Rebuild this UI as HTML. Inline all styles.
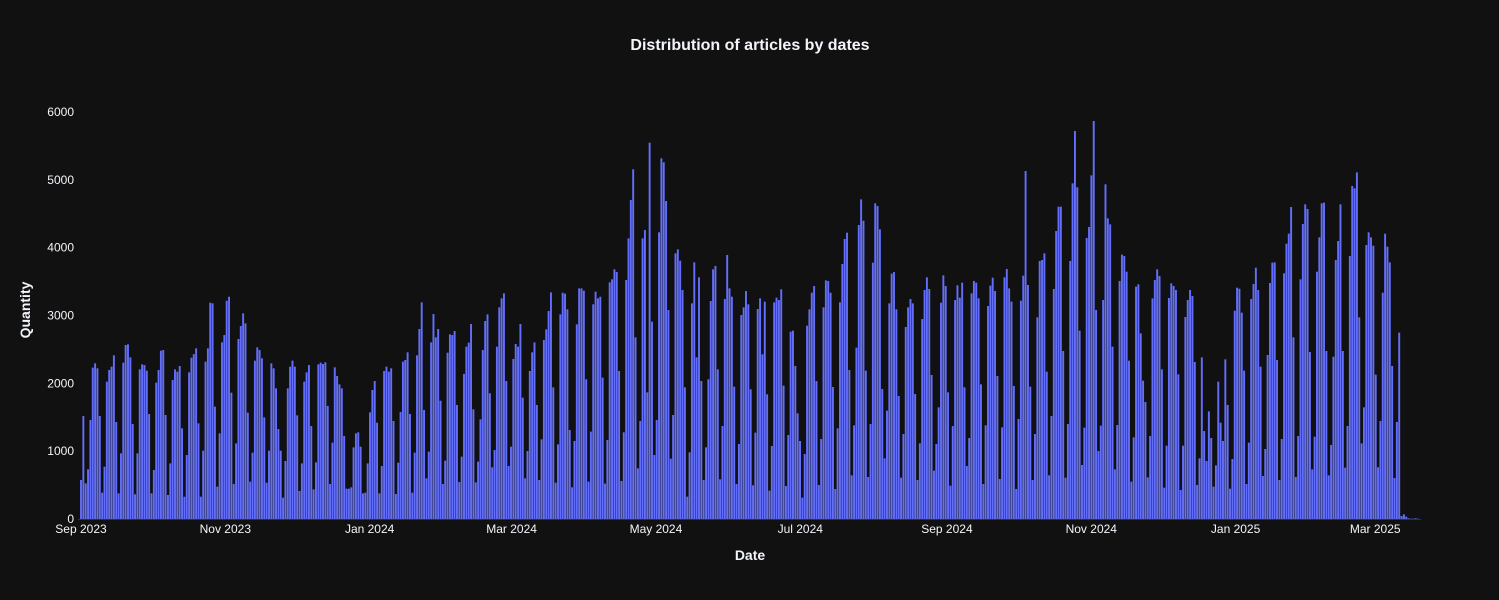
<!DOCTYPE html>
<html><head><meta charset="utf-8">
<style>
html,body{margin:0;padding:0;background:#111111;}
svg{display:block;font-family:"Liberation Sans",sans-serif;}
</style></head>
<body>
<svg id="chart" width="1499" height="600" viewBox="0 0 1499 600" xmlns="http://www.w3.org/2000/svg">
<rect x="0" y="0" width="1499" height="600" fill="#111111"/>
<text x="750" y="50" text-anchor="middle" font-size="16" font-weight="bold" fill="#f2f5fa">Distribution of articles by dates</text>
<text transform="translate(30,310) rotate(-90)" text-anchor="middle" font-size="14" font-weight="bold" fill="#f2f5fa">Quantity</text>
<text x="750" y="560" text-anchor="middle" font-size="14" font-weight="bold" fill="#f2f5fa">Date</text>
<g id="bars"></g>
<g id="yticks"></g>
<g id="xticks"></g>
</svg>
<script>
const startDate = "2023-09-01";
const values = [575,1518,525,732,1460,2231,2295,2221,1518,388,771,2025,2197,2246,2413,1430,378,968,2305,2565,2575,2383,1400,364,968,2206,2280,2270,2187,1548,378,722,2010,2197,2481,2491,1533,354,820,2049,2206,2172,2256,1336,329,943,2162,2378,2430,
2516,1410,329,1007,2320,2516,3189,3179,1656,477,1263,2604,2712,3218,3277,1862,516,1115,2654,2845,3032,2884,1567,550,978,2334,2530,2491,2369,1499,535,1007,2295,2221,1926,1326,1007,314,855,1926,2246,2334,2246,1528,413,820,2025,2162,
2270,1371,437,835,2280,2305,2285,2310,1666,516,1125,2236,2108,1985,1926,1224,447,447,467,1056,1263,1278,1066,378,388,820,1572,1902,2034,1420,378,781,2182,2246,2172,2221,1445,368,830,1577,2320,2344,2457,1548,388,978,2413,2801,3194,
1607,600,993,2604,3022,2678,2801,1744,516,860,2452,2722,2712,2771,1681,545,919,2138,2540,2600,2875,1617,540,845,1469,2491,2919,3017,1853,762,1017,2540,3120,3253,3327,2034,781,1066,2359,2580,2540,2875,1789,600,1002,2182,2457,
2604,1681,575,1174,2639,2796,3066,3341,1941,535,1101,3017,3336,3322,3091,1312,467,1150,2870,3400,3400,3366,2059,550,1288,3165,3351,3253,3277,2084,521,1165,3489,3533,3681,3641,2182,560,1278,3523,4138,4703,5155,2678,747,1445,4138,4260,1867,
5548,2909,943,1460,4226,5317,5258,4688,3081,889,1533,3916,3975,3808,3376,1941,329,983,3179,3784,2383,3563,2034,575,1056,2059,3214,3681,3730,2206,585,1371,3243,3892,3400,3277,1951,516,1106,3007,3120,3361,3165,1912,496,1273,3096,3253,2428,
3204,1838,418,1076,3194,3263,3228,3386,1966,486,1238,2762,2776,2256,1558,1150,314,958,2850,3091,3336,3435,2034,501,1179,3120,3518,3509,3336,1946,442,1336,3194,3759,4128,4221,2197,644,1381,2526,4334,4712,4398,2187,619,1400,3779,4654,4614,4270,
1917,894,1597,3179,3617,3641,3091,1813,609,1253,2831,3120,3243,3179,1843,575,1115,2948,3376,3563,3391,2123,713,1106,1646,3189,3592,3435,1867,491,1371,3228,3445,3263,3484,1941,781,1194,3327,3509,3484,3253,1985,516,1381,3140,3440,3558,3361,
2108,590,1351,3563,3686,3400,3204,1961,442,1474,3218,3587,5130,3450,1951,575,1253,2973,3804,3818,3916,2172,644,1518,3391,4246,4604,4604,2477,609,1400,3804,4948,5720,4890,2776,796,1346,4143,4305,5066,5867,3081,1002,1376,3228,4934,4432,4344,
2541,732,1386,3509,3897,3877,3646,2334,550,1204,3425,3460,2737,2039,1725,614,1224,3253,3523,3681,3583,2206,462,1081,3258,3474,3435,3376,2133,428,1081,2978,3228,3376,3287,2315,501,894,2383,1297,855,1587,1194,477,791,2025,1420,1150,2354,
1681,447,884,3071,3410,3395,3042,2187,516,1125,3243,3465,3705,3376,2246,634,1032,2418,3479,3779,3784,2344,575,1179,3622,4059,4206,4599,2678,619,1224,3533,4349,4639,4570,2462,732,1214,3646,4152,4654,4664,2477,644,1091,2393,3818,4098,4639,
2477,757,1371,3877,4909,4875,5110,2973,1115,1646,4039,4226,4152,4029,2128,762,1445,3336,4206,4015,3784,2256,604,1430,2747,44,69,34,10,5,5,10,5];
const yTicks = [0,1000,2000,3000,4000,5000,6000];
const xTickDates = ["2023-09-01","2023-11-01","2024-01-01","2024-03-01","2024-05-01","2024-07-01","2024-09-01","2024-11-01","2025-01-01","2025-03-01"];
const xTickLabels = ["Sep 2023","Nov 2023","Jan 2024","Mar 2024","May 2024","Jul 2024","Sep 2024","Nov 2024","Jan 2025","Mar 2025"];

const NS="http://www.w3.org/2000/svg";
const X0=81, PX_PER_DAY=2.366, Y0=519, Y_PER_UNIT=407/6000;
const t0=Date.parse(startDate+"T00:00:00Z");
function xDate(s){return X0+(Date.parse(s+"T00:00:00Z")-t0)/86400000*PX_PER_DAY;}
const step=(1418-X0)/(values.length-1);
function xIdx(i){return X0+i*step;}
function y(v){return Y0-v*Y_PER_UNIT;}

const bars=document.getElementById('bars');
values.forEach((v,i)=>{
  const r=document.createElementNS(NS,'rect');
  
  
  const w=step*0.82;
  r.setAttribute('x',(xIdx(i)-w/2).toFixed(2));
  r.setAttribute('y',y(v).toFixed(2));
  r.setAttribute('width',w.toFixed(2));
  r.setAttribute('height',Math.max(0,Y0-y(v)).toFixed(2));
  r.setAttribute('fill','#636efa');
  bars.appendChild(r);
});
const base=document.createElementNS(NS,'line');


base.setAttribute('x1',78);base.setAttribute('x2',1421);base.setAttribute('y1',519.5);base.setAttribute('y2',519.5);
base.setAttribute('stroke','#283442');base.setAttribute('stroke-width',1);
bars.appendChild(base);

const yt=document.getElementById('yticks');
yTicks.forEach(v=>{
  const t=document.createElementNS(NS,'text');
  
  
  t.setAttribute('x',74);t.setAttribute('y',y(v)+4);
  t.setAttribute('text-anchor','end');t.setAttribute('font-size','12');t.setAttribute('fill','#f2f5fa');
  t.textContent=String(v);
  yt.appendChild(t);
});
const xt=document.getElementById('xticks');
xTickDates.forEach((d,i)=>{
  const t=document.createElementNS(NS,'text');
  
  
  t.setAttribute('x',xDate(d));t.setAttribute('y',533);
  t.setAttribute('text-anchor','middle');t.setAttribute('font-size','12');t.setAttribute('fill','#f2f5fa');
  t.textContent=xTickLabels[i];
  xt.appendChild(t);
});
</script>
</body></html>
